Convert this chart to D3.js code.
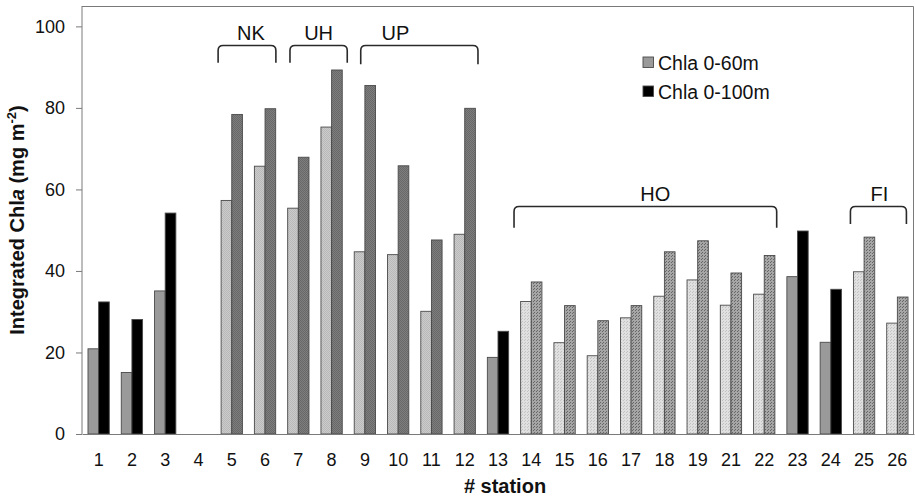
<!DOCTYPE html>
<html><head><meta charset="utf-8">
<script src="https://cdn.jsdelivr.net/npm/d3@7/dist/d3.min.js"></script>
<style>
html,body{margin:0;padding:0;background:#fff;}
svg{display:block;font-family:"Liberation Sans",Arial,sans-serif;}
</style></head>
<body>
<svg id="chart" width="915" height="497"></svg>
<script>
// ---- data ----
const stations = ["1","2","3","4","5","6","7","8","9","10","11","12","13","14","15","16","17","18","19","21","22","23","24","25","26"];
const chla60  = [20.9,15.1,35.1,null,57.3,65.7,55.4,75.3,44.7,44.0,30.1,49.0,18.8,32.5,22.4,19.2,28.5,33.8,37.8,31.6,34.3,38.6,22.5,39.8,27.2];
const chla100 = [32.4,28.1,54.2,null,78.4,79.8,67.9,89.3,85.5,65.8,47.6,79.9,25.2,37.3,31.5,27.8,31.5,44.7,47.4,39.5,43.8,49.8,35.5,48.3,33.6];
const stationKind = ["solid","solid","solid","solid","up","up","up","up","up","up","up","up","solid","ho","ho","ho","ho","ho","ho","ho","ho","solid","solid","ho","ho"];
const yTicks = [0,20,40,60,80,100];
const seriesNames = ["Chla 0-60m","Chla 0-100m"];
const groupLabels = ["NK","UH","UP","HO","FI"];
const groupFrom   = ["5","7","9","14","25"];
const groupTo     = ["6","8","12","22","26"];
const groupTop    = [95.3,95.3,95.3,55.8,55.8];
const groupDrop   = [91.1,91.1,90.7,50.6,51.5];

// ---- layout ----
const svg = d3.select("#chart");
const L = 82, R = 914, T = 6, B = 434;
const x = d3.scaleBand().domain(stations).range([L, R]).paddingInner(0.36).paddingOuter(0.18);
const y = d3.scaleLinear().domain([0, 105]).range([B, T]);
const bw = x.bandwidth() / 2;

// patterns
const defs = svg.append("defs");
function pat(id, base, dot, size) {
  const p = defs.append("pattern").attr("id", id).attr("patternUnits", "userSpaceOnUse")
    .attr("width", size).attr("height", size);
  p.append("rect").attr("width", size).attr("height", size).attr("fill", base);
  p.append("rect").attr("width", 1).attr("height", 1).attr("fill", dot);
  if (size === 2) p.append("rect").attr("x", 1).attr("y", 1).attr("width", 1).attr("height", 1).attr("fill", dot);
  else p.append("rect").attr("x", 2).attr("y", 1).attr("width", 1).attr("height", 1).attr("fill", dot);
}
pat("upLight", "#cbcbcb", "#b9b9b9", 2);
pat("upDark", "#7e7e7e", "#686868", 2);
pat("hoLight", "#e0e0e0", "#c2c2c2", 3);
pat("hoDark", "#a6a6a6", "#666666", 3);

const fills = {
  solid: ["#9a9a9a", "#000000"],
  up: ["url(#upLight)", "url(#upDark)"],
  ho: ["url(#hoLight)", "url(#hoDark)"]
};

// plot frame (top and right)
svg.append("path").attr("d", `M${L},${T+0.5}H${R-0.5}V${B}`).attr("fill", "none").attr("stroke", "#7a7a7a").attr("stroke-width", 1);

// bars
const rows = stations.map((s, i) => ({s, i, v: [chla60[i], chla100[i]], k: stationKind[i]}));
rows.forEach(r => {
  r.v.forEach((v, j) => {
    if (v == null) return;
    svg.append("rect")
      .attr("x", x(r.s) + j * bw)
      .attr("y", y(v))
      .attr("width", bw)
      .attr("height", y(0) - y(v))
      .attr("fill", fills[r.k][j])
      .attr("stroke", "#4a4a4a")
      .attr("stroke-width", 0.9);
  });
});

// axes
const yAxis = svg.append("g").attr("transform", `translate(${L},0)`)
  .call(d3.axisLeft(y).tickValues(yTicks).tickSize(6).tickPadding(11).tickSizeOuter(0));
yAxis.select(".domain").attr("stroke", "#7a7a7a").attr("d", `M0,${B}V${T}`);
yAxis.selectAll(".tick line").attr("stroke", "#7a7a7a");
yAxis.selectAll(".tick text").attr("font-size", 18).attr("fill", "#111").attr("font-family", "Liberation Sans, Arial, sans-serif");

const xAxis = svg.append("g").attr("transform", `translate(0,${B})`)
  .call(d3.axisBottom(x).tickSize(0).tickPadding(19).tickSizeOuter(0));
xAxis.select(".domain").attr("stroke", "#7a7a7a");
xAxis.selectAll(".tick text").attr("font-size", 18).attr("fill", "#111").attr("font-family", "Liberation Sans, Arial, sans-serif");

// axis titles
svg.append("text").attr("x", (L + R) / 2 + 7).attr("y", 493).attr("text-anchor", "middle")
  .attr("font-size", 20).attr("font-weight", "bold").attr("fill", "#111").text("# station");

const yt = svg.append("text").attr("transform", "rotate(-90)").attr("x", -220).attr("y", 24)
  .attr("text-anchor", "middle").attr("font-size", 20).attr("font-weight", "bold").attr("fill", "#111");
yt.append("tspan").text("Integrated Chl");
yt.append("tspan").attr("font-style", "italic").text("a");
yt.append("tspan").text(" (mg m");
yt.append("tspan").attr("font-size", 13).attr("dy", -8).text("-2");
yt.append("tspan").attr("dy", 8).text(")");

// group brackets
const nudge = [[-3, 0.2, 4], [2.3, 5, 0], [6.5, 2.6, -24], [-6.6, 1.8, 10], [-3, -1.6, 1]];
groupLabels.forEach((g, i) => {
  const x1 = x(groupFrom[i]) + nudge[i][0];
  const x2 = x(groupTo[i]) + x.bandwidth() + nudge[i][1];
  const yt0 = y(groupTop[i]), yb = y(groupDrop[i]), r = 5;
  svg.append("path")
    .attr("d", `M${x1},${yb}V${yt0 + r}Q${x1},${yt0} ${x1 + r},${yt0}H${x2 - r}Q${x2},${yt0} ${x2},${yt0 + r}V${yb}`)
    .attr("fill", "none").attr("stroke", "#2a2a2a").attr("stroke-width", 1.6);
  svg.append("text").attr("x", (x1 + x2) / 2 + nudge[i][2]).attr("y", yt0 - 5.5)
    .attr("text-anchor", "middle").attr("font-size", 20).attr("fill", "#111").text(g);
});

// legend
const legColors = ["#9a9a9a", "#000000"];
seriesNames.forEach((n, i) => {
  const ly = 57 + i * 29;
  svg.append("rect").attr("x", 643).attr("y", ly).attr("width", 10.5).attr("height", 10.5)
    .attr("fill", legColors[i]).attr("stroke", "#4a4a4a").attr("stroke-width", 0.9);
  svg.append("text").attr("x", 658).attr("y", ly + 13).attr("font-size", 19.5).attr("fill", "#111").text(n);
});
</script>
</body></html>
